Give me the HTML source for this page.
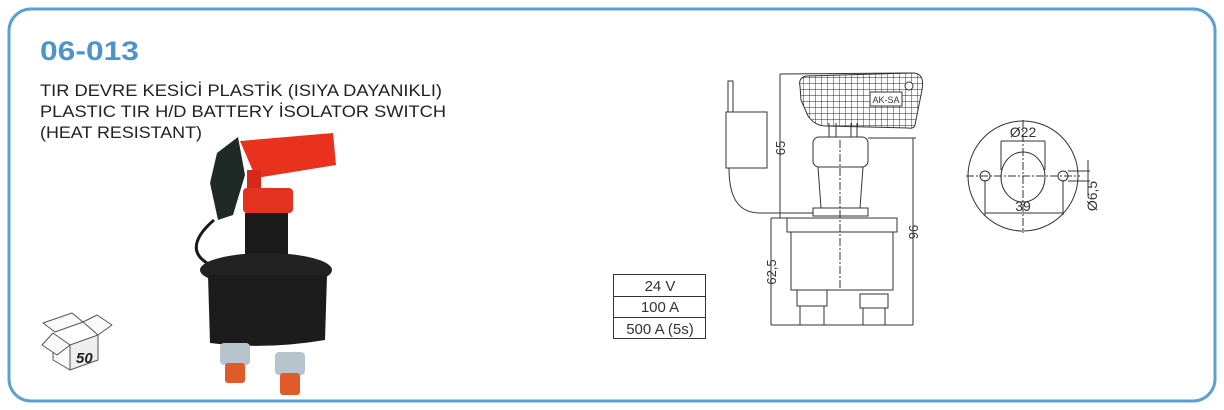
<!DOCTYPE html>
<html><head><meta charset="utf-8"><style>
html,body{margin:0;padding:0;background:#fff;}
svg{display:block;font-family:"Liberation Sans",sans-serif;}
</style></head><body>
<svg width="1224" height="410" viewBox="0 0 1224 410" xmlns="http://www.w3.org/2000/svg">
<defs>
<pattern id="grid" width="6" height="6" patternUnits="userSpaceOnUse">
<path d="M6 0V6M0 6H6" stroke="#222" stroke-width="0.9" fill="none"/>
</pattern>
</defs>
<rect x="9" y="9" width="1206" height="392" rx="22" fill="#fff" stroke="#5c9fd1" stroke-width="3"/>
<text x="40" y="60" font-size="27" font-weight="bold" fill="#4f93c8" textLength="99" lengthAdjust="spacingAndGlyphs">06-013</text>
<g font-size="17" fill="#222">
<text x="40" y="96" textLength="402" lengthAdjust="spacingAndGlyphs">TIR DEVRE KESİCİ PLASTİK (ISIYA DAYANIKLI)</text>
<text x="40" y="117" textLength="406" lengthAdjust="spacingAndGlyphs">PLASTIC TIR H/D BATTERY İSOLATOR SWITCH</text>
<text x="40" y="138" textLength="162" lengthAdjust="spacingAndGlyphs">(HEAT RESISTANT)</text>
</g>
<g stroke="#555" stroke-width="1" fill="#fafafa" stroke-linejoin="round">
<polygon points="43,323 72,313 83,322 55,332"/>
<polygon points="83,322 97,315 112,325 98,335"/>
<polygon points="53,338 70,345 70,370 53,360"/>
<polygon points="70,345 98,335 98,360 70,370" fill="#eee"/>
<polygon points="42,345 53,333 70,345 57,355"/>
<text x="76" y="363" font-size="15" font-weight="bold" font-style="italic" fill="#222" stroke="none">50</text>
</g>
<path d="M214,220 C200,232 186,250 207,263" stroke="#1a1a1a" stroke-width="3" fill="none"/>
<polygon points="217,153 238,137 245,175 233,215 218,220 210,183" fill="#1f2a26"/>
<polygon points="240,141 333,133 336,165 256,178" fill="#e8321e"/>
<rect x="247" y="170" width="14" height="22" fill="#d8281a"/>
<rect x="243" y="188" width="50" height="25" rx="4" fill="#e33220"/>
<rect x="245" y="213" width="43" height="45" fill="#1a1a1a"/>
<ellipse cx="266" cy="270" rx="66" ry="17" fill="#222"/>
<path d="M208,275 H327 L325,340 Q266,350 210,343 Z" fill="#1c1c1c"/>
<rect x="220" y="343" width="30" height="22" rx="4" fill="#b8c4cc"/>
<rect x="275" y="352" width="30" height="23" rx="4" fill="#b8c4cc"/>
<rect x="225" y="363" width="20" height="20" rx="3" fill="#e05a2a"/>
<rect x="280" y="373" width="20" height="22" rx="3" fill="#e05a2a"/>
<g stroke="#333" stroke-width="1" fill="none">
<rect x="613.5" y="274.5" width="92" height="64"/>
<line x1="613" y1="296.5" x2="706" y2="296.5"/>
<line x1="613" y1="317.5" x2="706" y2="317.5"/>
</g>
<g font-size="15" fill="#333" text-anchor="middle">
<text x="660" y="291">24 V</text>
<text x="660" y="312">100 A</text>
<text x="660" y="334">500 A (5s)</text>
</g>
<g stroke="#333" stroke-width="1" fill="none">
<line x1="780" y1="74" x2="780" y2="218"/>
<line x1="780" y1="74" x2="910" y2="73"/>
<path d="M800,86 Q798,78 806,76 L913,73 Q925,73 922,90 L915,125 Q914,129 908,128 L826,126 Q815,126 808,116 L801,100 Z" fill="url(#grid)"/>
<rect x="870" y="92" width="32" height="14" fill="#fff"/>
<circle cx="909" cy="86" r="4" fill="#fff"/>
<path d="M829,123 V137 M836,123 V137 M851,123 V137 M857,123 V137"/>
<rect x="813" y="137" width="55" height="30" rx="6" fill="#fff"/>
<path d="M818,167 L821,208 M863,167 L860,208"/>
<rect x="813" y="208" width="55" height="8"/>
<path d="M787,218 H897 V232 H787 Z"/>
<rect x="791" y="232" width="102" height="58"/>
<line x1="840" y1="140" x2="840" y2="290" stroke-dasharray="8,2,2,2"/>
<rect x="797" y="290" width="30" height="16"/><rect x="800" y="306" width="24" height="19"/>
<rect x="860" y="294" width="28" height="14"/><rect x="863" y="308" width="22" height="17"/>
<line x1="771" y1="325" x2="913" y2="325"/>
<line x1="771" y1="218" x2="771" y2="325"/>
<line x1="771" y1="218" x2="790" y2="218"/>
<line x1="913" y1="138" x2="913" y2="325"/>
<line x1="868" y1="138" x2="916" y2="138"/>
<rect x="726" y="112" width="41" height="56"/>
<rect x="728" y="81" width="5" height="31"/>
<path d="M729,168 C729,200 740,213 760,213 H813"/>
</g>
<text x="886" y="103" font-size="9" fill="#333" text-anchor="middle">AK-SA</text>
<g font-size="13" fill="#333">
<text transform="translate(785,148) rotate(-90)" text-anchor="middle">65</text>
<text transform="translate(776,272) rotate(-90)" text-anchor="middle">62,5</text>
<text transform="translate(918,232) rotate(-90)" text-anchor="middle">96</text>
</g>
<g stroke="#333" stroke-width="1" fill="none">
<circle cx="1023" cy="176" r="55"/>
<ellipse cx="1023" cy="177" rx="22" ry="25"/>
<circle cx="985" cy="176" r="5"/>
<circle cx="1063" cy="176" r="5"/>
<line x1="966" y1="176" x2="1080" y2="176" stroke-dasharray="8,2,2,2"/>
<line x1="1023" y1="120" x2="1023" y2="233" stroke-dasharray="8,2,2,2"/>
<line x1="1001" y1="141" x2="1045" y2="141"/>
<line x1="1001" y1="141" x2="1001" y2="170"/><line x1="1045" y1="141" x2="1045" y2="170"/>
<line x1="985" y1="180" x2="985" y2="215"/><line x1="1063" y1="180" x2="1063" y2="215"/>
<line x1="985" y1="213" x2="1063" y2="213"/>
<line x1="1068" y1="171" x2="1090" y2="171"/><line x1="1068" y1="181" x2="1090" y2="181"/>
<line x1="1088" y1="160" x2="1088" y2="195"/>
</g>
<g font-size="14" fill="#333" text-anchor="middle">
<text x="1023" y="137">Ø22</text>
<text x="1023" y="211">39</text>
<text transform="translate(1097,196) rotate(-90)">Ø6,5</text>
</g>
</svg>
</body></html>
